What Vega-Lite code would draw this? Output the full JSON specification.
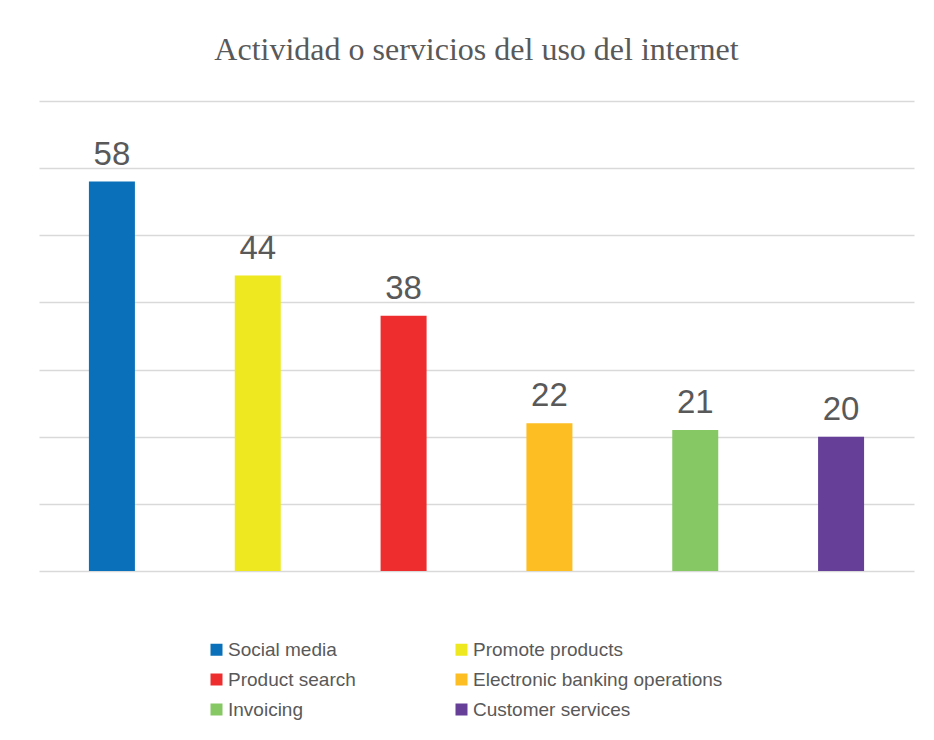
{
  "$schema": "https://vega.github.io/schema/vega-lite/v6.json",
  "width": 875,
  "height": 470,
  "autosize": {"type": "none"},
  "padding": {"left": 39, "top": 101, "right": 20, "bottom": 169},
  "background": "white",
  "title": {
    "text": "Actividad o servicios del uso del internet",
    "font": "Liberation Serif",
    "fontSize": 32,
    "fontWeight": "normal",
    "color": "#595959",
    "anchor": "middle",
    "baseline": "alphabetic",
    "offset": 9
  },
  "data": {
    "values": [
      {"activity": "Social media", "value": 58},
      {"activity": "Promote products", "value": 44},
      {"activity": "Product search", "value": 38},
      {"activity": "Electronic banking operations", "value": 22},
      {"activity": "Invoicing", "value": 21},
      {"activity": "Customer services", "value": 20}
    ]
  },
  "encoding": {
    "x": {
      "field": "activity",
      "type": "nominal",
      "sort": null,
      "scale": {"paddingInner": 0, "paddingOuter": 0},
      "axis": null
    },
    "y": {
      "field": "value",
      "type": "quantitative",
      "scale": {"domain": [0, 70], "nice": false},
      "axis": {
        "values": [0, 10, 20, 30, 40, 50, 60, 70],
        "labels": false,
        "ticks": false,
        "domain": false,
        "title": null,
        "grid": true,
        "gridColor": "#d9d9d9",
        "gridWidth": 1.5
      }
    }
  },
  "layer": [
    {
      "mark": {"type": "bar", "size": 46},
      "encoding": {
        "color": {
          "field": "activity",
          "type": "nominal",
          "scale": {
            "domain": ["Social media", "Product search", "Invoicing", "Promote products", "Electronic banking operations", "Customer services"],
            "range": ["#0A70BA", "#EE2E2E", "#86C864", "#EDE81F", "#FDBE23", "#663F98"]
          },
          "legend": {
            "title": null,
            "orient": "none",
            "legendX": 168,
            "legendY": 539,
            "columns": 2,
            "columnPadding": 96,
            "rowPadding": 10,
            "padding": 0,
            "symbolType": "square",
            "symbolSize": 144,
            "symbolStrokeWidth": 0,
            "labelFont": "Liberation Sans",
            "labelFontSize": 19,
            "labelColor": "#595959",
            "labelOffset": 2,
            "labelLimit": 400
          }
        }
      }
    },
    {
      "mark": {
        "type": "text",
        "dy": -10,
        "baseline": "bottom",
        "font": "Liberation Sans",
        "fontSize": 33,
        "color": "#595959"
      },
      "encoding": {
        "text": {"field": "value", "type": "quantitative"}
      }
    }
  ],
  "config": {"view": {"stroke": null}}
}
